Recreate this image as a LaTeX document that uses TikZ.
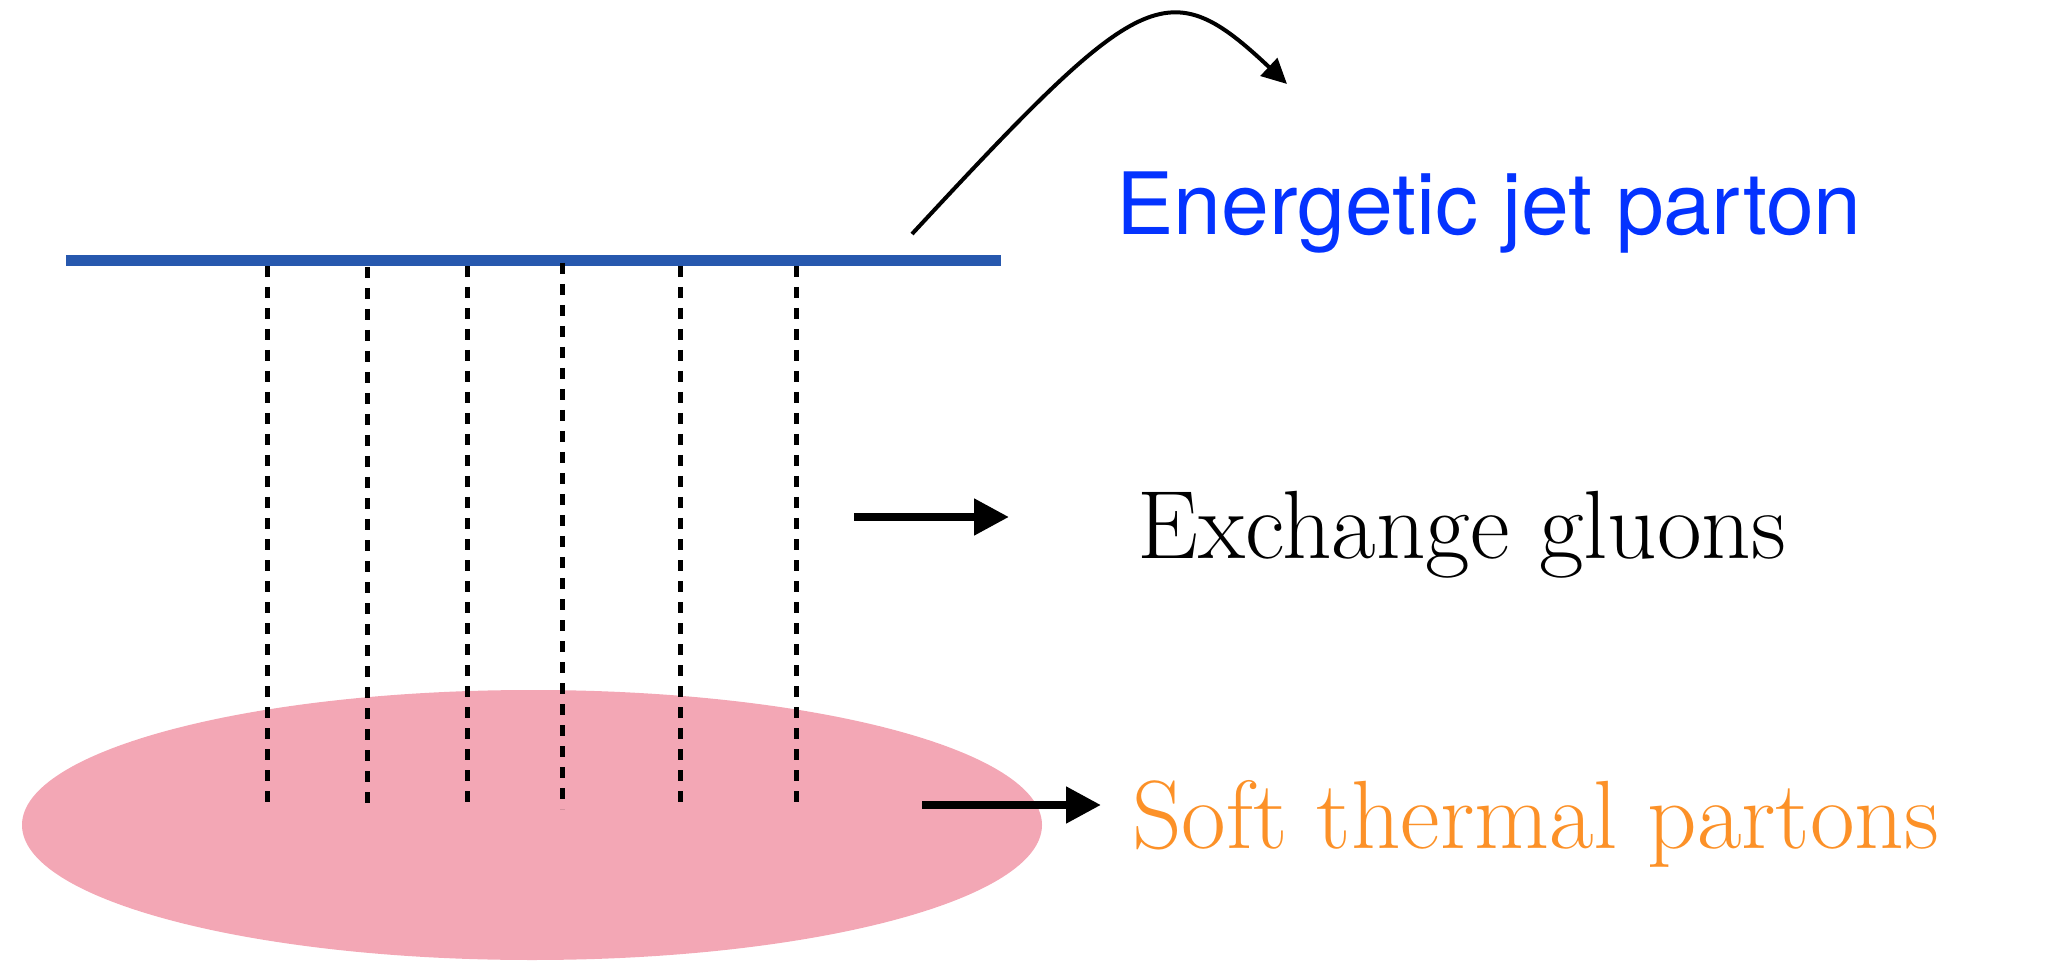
\documentclass[tikz,border=0pt]{standalone}
\usepackage{fontspec}
\newfontfamily\herosfont{TeX Gyre Heros}
\usetikzlibrary{arrows.meta}
\definecolor{jetblue}{RGB}{39,88,174}
\definecolor{textblue}{RGB}{4,51,255}
\definecolor{softorange}{RGB}{252,145,40}
\definecolor{mediumpink}{RGB}{243,167,181}
\begin{document}
\begin{tikzpicture}[x=0.5pt,y=-0.5pt,
  gluonline/.style={line width=2.5pt, dash pattern=on 5.5pt off 5pt},
  ptr/.style={line width=4pt, -{Triangle[length=17.5pt,width=17.5pt]}},
  lbl/.style={inner sep=0pt, anchor=base west},
  serifbig/.style={font=\fontsize{48.5pt}{58pt}\selectfont}]
\useasboundingbox (0,0) rectangle (2049,967);
% medium
\fill[mediumpink] (532,825) ellipse [x radius=255pt, y radius=67.5pt];
% jet parton line
\coordinate (jetL) at (66,261);
\coordinate (jetR) at (1001,261);
\draw[jetblue, line width=5.5pt] (jetL) -- (jetR);
% exchange gluons
\foreach \i/\x/\yt/\yb in {1/267/266/811, 2/367/267/812, 3/467/266/811, 4/562/263/809, 5/680/266/811, 6/796/266/810}{
  \coordinate (gt\i) at (\x,\yt);
  \coordinate (gb\i) at (\x,\yb);
  \draw[gluonline] (gt\i) -- (gb\i);
}
% curved arrow
\coordinate (cs) at (912,234);
\coordinate (ce) at (1287,84);
\draw[line width=2pt, -{Triangle[length=12.5pt,width=12pt]}] (cs) .. controls (1142,-14) and (1167,-29) .. (ce);
% pointer arrows
\coordinate (a1s) at (854,517);
\coordinate (a1e) at (1009,517);
\draw[ptr] (a1s) -- (a1e);
\coordinate (a2s) at (922,805);
\coordinate (a2e) at (1101,805);
\draw[ptr] (a2s) -- (a2e);
% labels
\node[lbl, text=textblue, font=\herosfont\fontsize{43pt}{50pt}\selectfont] (jetlabel) at (1116,235) {Energetic jet parton};
\node[lbl, serifbig] (gluonlabel) at (1137,559) {Exchange gluons};
\node[lbl, serifbig, text=softorange] (softlabel) at (1132,848) {Soft thermal partons};
\end{tikzpicture}
\end{document}
